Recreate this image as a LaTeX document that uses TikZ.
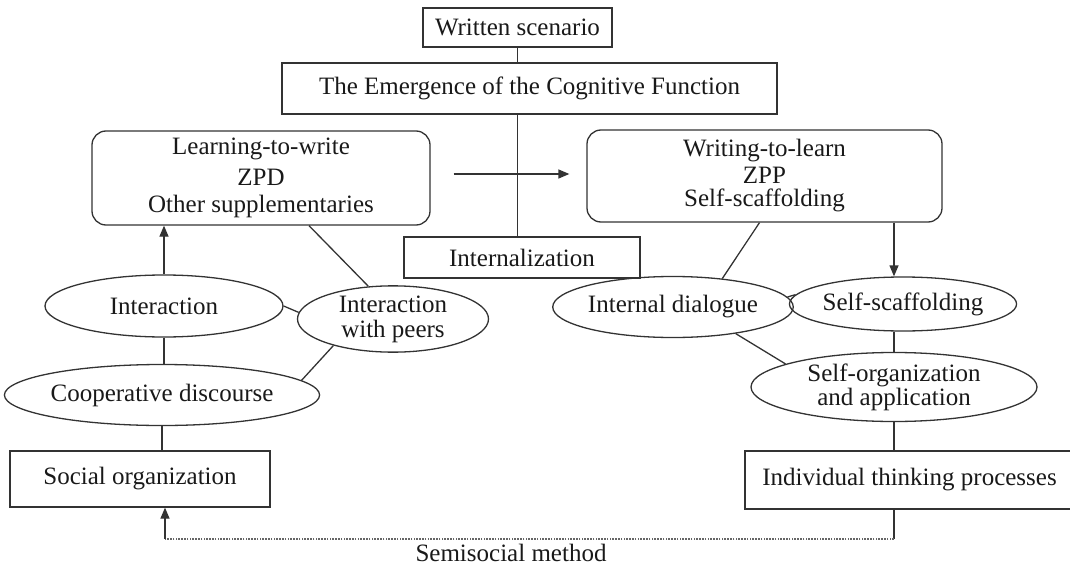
\documentclass[tikz,border=0pt]{standalone}
\usepackage{fontspec}
\setmainfont{Liberation Serif}
\usetikzlibrary{shapes.geometric,arrows.meta}
\begin{document}
\begin{tikzpicture}[x=1pt,y=-1pt,
  every node/.style={font=\fontsize{25}{25}\selectfont, text=black!90, inner sep=0pt},
  plainbox/.style={draw=black!80, line width=1.3pt, rectangle, align=center},
  roundbox/.style={draw=black!80, line width=1.3pt, rectangle, rounded corners=14pt, align=center},
  oval/.style={draw=black!80, line width=1.3pt, ellipse, align=center},
  link/.style={draw=black!80, line width=1.3pt},
  arr/.style={link, -{Triangle[length=11pt,width=9pt]}},
  dotline/.style={draw=black!60, line width=1.2pt, dash pattern=on 1.6pt off 1.2pt}]
\useasboundingbox (0,0) rectangle (1070,567);

% top chain
\node[plainbox, minimum width=189pt, minimum height=39pt] (ws) at (517.5,27.5) {Written scenario};
\node[plainbox, minimum width=495pt, minimum height=51pt] (emf) at (529.5,88.5) {The Emergence of the Cognitive Function};
\node[plainbox, minimum width=236pt, minimum height=41pt] (intern) at (522,257.5) {Internalization};

% the two writing modes
\node[roundbox, minimum width=338pt, minimum height=94pt] (learn) at (261,178)
  {Learning-to-write\\[6pt]ZPD\\[2pt]Other supplementaries};
\node[roundbox, minimum width=355pt, minimum height=92pt] (write) at (764.5,176)
  {Writing-to-learn\\[2pt]ZPP\\[-2pt]Self-scaffolding};

% social side
\node[oval, minimum width=238pt, minimum height=62pt] (inter) at (164,306) {Interaction};
\node[oval, minimum width=191pt, minimum height=61pt] (peers) at (393,319) {Interaction\\with peers};
\node[oval, minimum width=262pt, minimum height=61pt] (coop) at (162,395) {Cooperative discourse};
\node[plainbox, minimum width=260pt, minimum height=56pt] (social) at (140,479) {Social organization};

% individual side
\node[oval, minimum width=191pt, minimum height=61pt] (idlg) at (673,307) {Internal dialogue};
\node[oval, minimum width=213pt, minimum height=54pt] (sscaf) at (903,304) {Self-scaffolding};
\node[oval, minimum width=286pt, minimum height=69pt] (sorg) at (894,387) {Self-organization\\[-1pt]and application};
\node[plainbox, minimum width=329pt, minimum height=58pt] (indiv) at (909.5,480) {Individual thinking processes};

\node (semi) at (511,553) {Semisocial method};

% vertical spine
\draw[link] (ws.south) -- (ws.south |- emf.north);
\draw[link] (emf.south -| ws.south) -- (intern.north -| ws.south);
\draw[arr] ([xshift=23pt,yshift=4pt]learn.east) -- ([xshift=-17pt,yshift=2pt]write.west);

% social side connectors
\draw[arr] (inter.north) -- (inter.north |- learn.south);
\draw[link] ([xshift=48pt]learn.south) -- (peers.127);
\draw[link] (inter.east) -- (peers.176);
\draw[link] (inter.south) -- (inter.south |- coop.north);
\draw[link] (coop.6) -- (peers.204);
\draw[link] (coop.south) -- (coop.south |- social.north);

% individual side connectors
\draw[link] ([xshift=-5pt]write.south) -- (idlg.30);
\draw[arr] (write.south -| sorg.south) -- (sorg.south |- sscaf.north);
\draw[link] (idlg.5) -- (sscaf.175);
\draw[link] (sorg.north |- sscaf.south) -- (sorg.north);
\draw[link] (idlg.337) -- (sorg.168);
\draw[link] (sorg.south) -- (sorg.south |- indiv.north);

% return path
\coordinate (bendR) at (894,539);
\coordinate (bendL) at (165,539);
\draw[link] (indiv.south -| bendR) -- (bendR);
\draw[dotline] (bendR) -- (bendL);
\draw[arr] (bendL) -- (bendL |- social.south);
\end{tikzpicture}
\end{document}
